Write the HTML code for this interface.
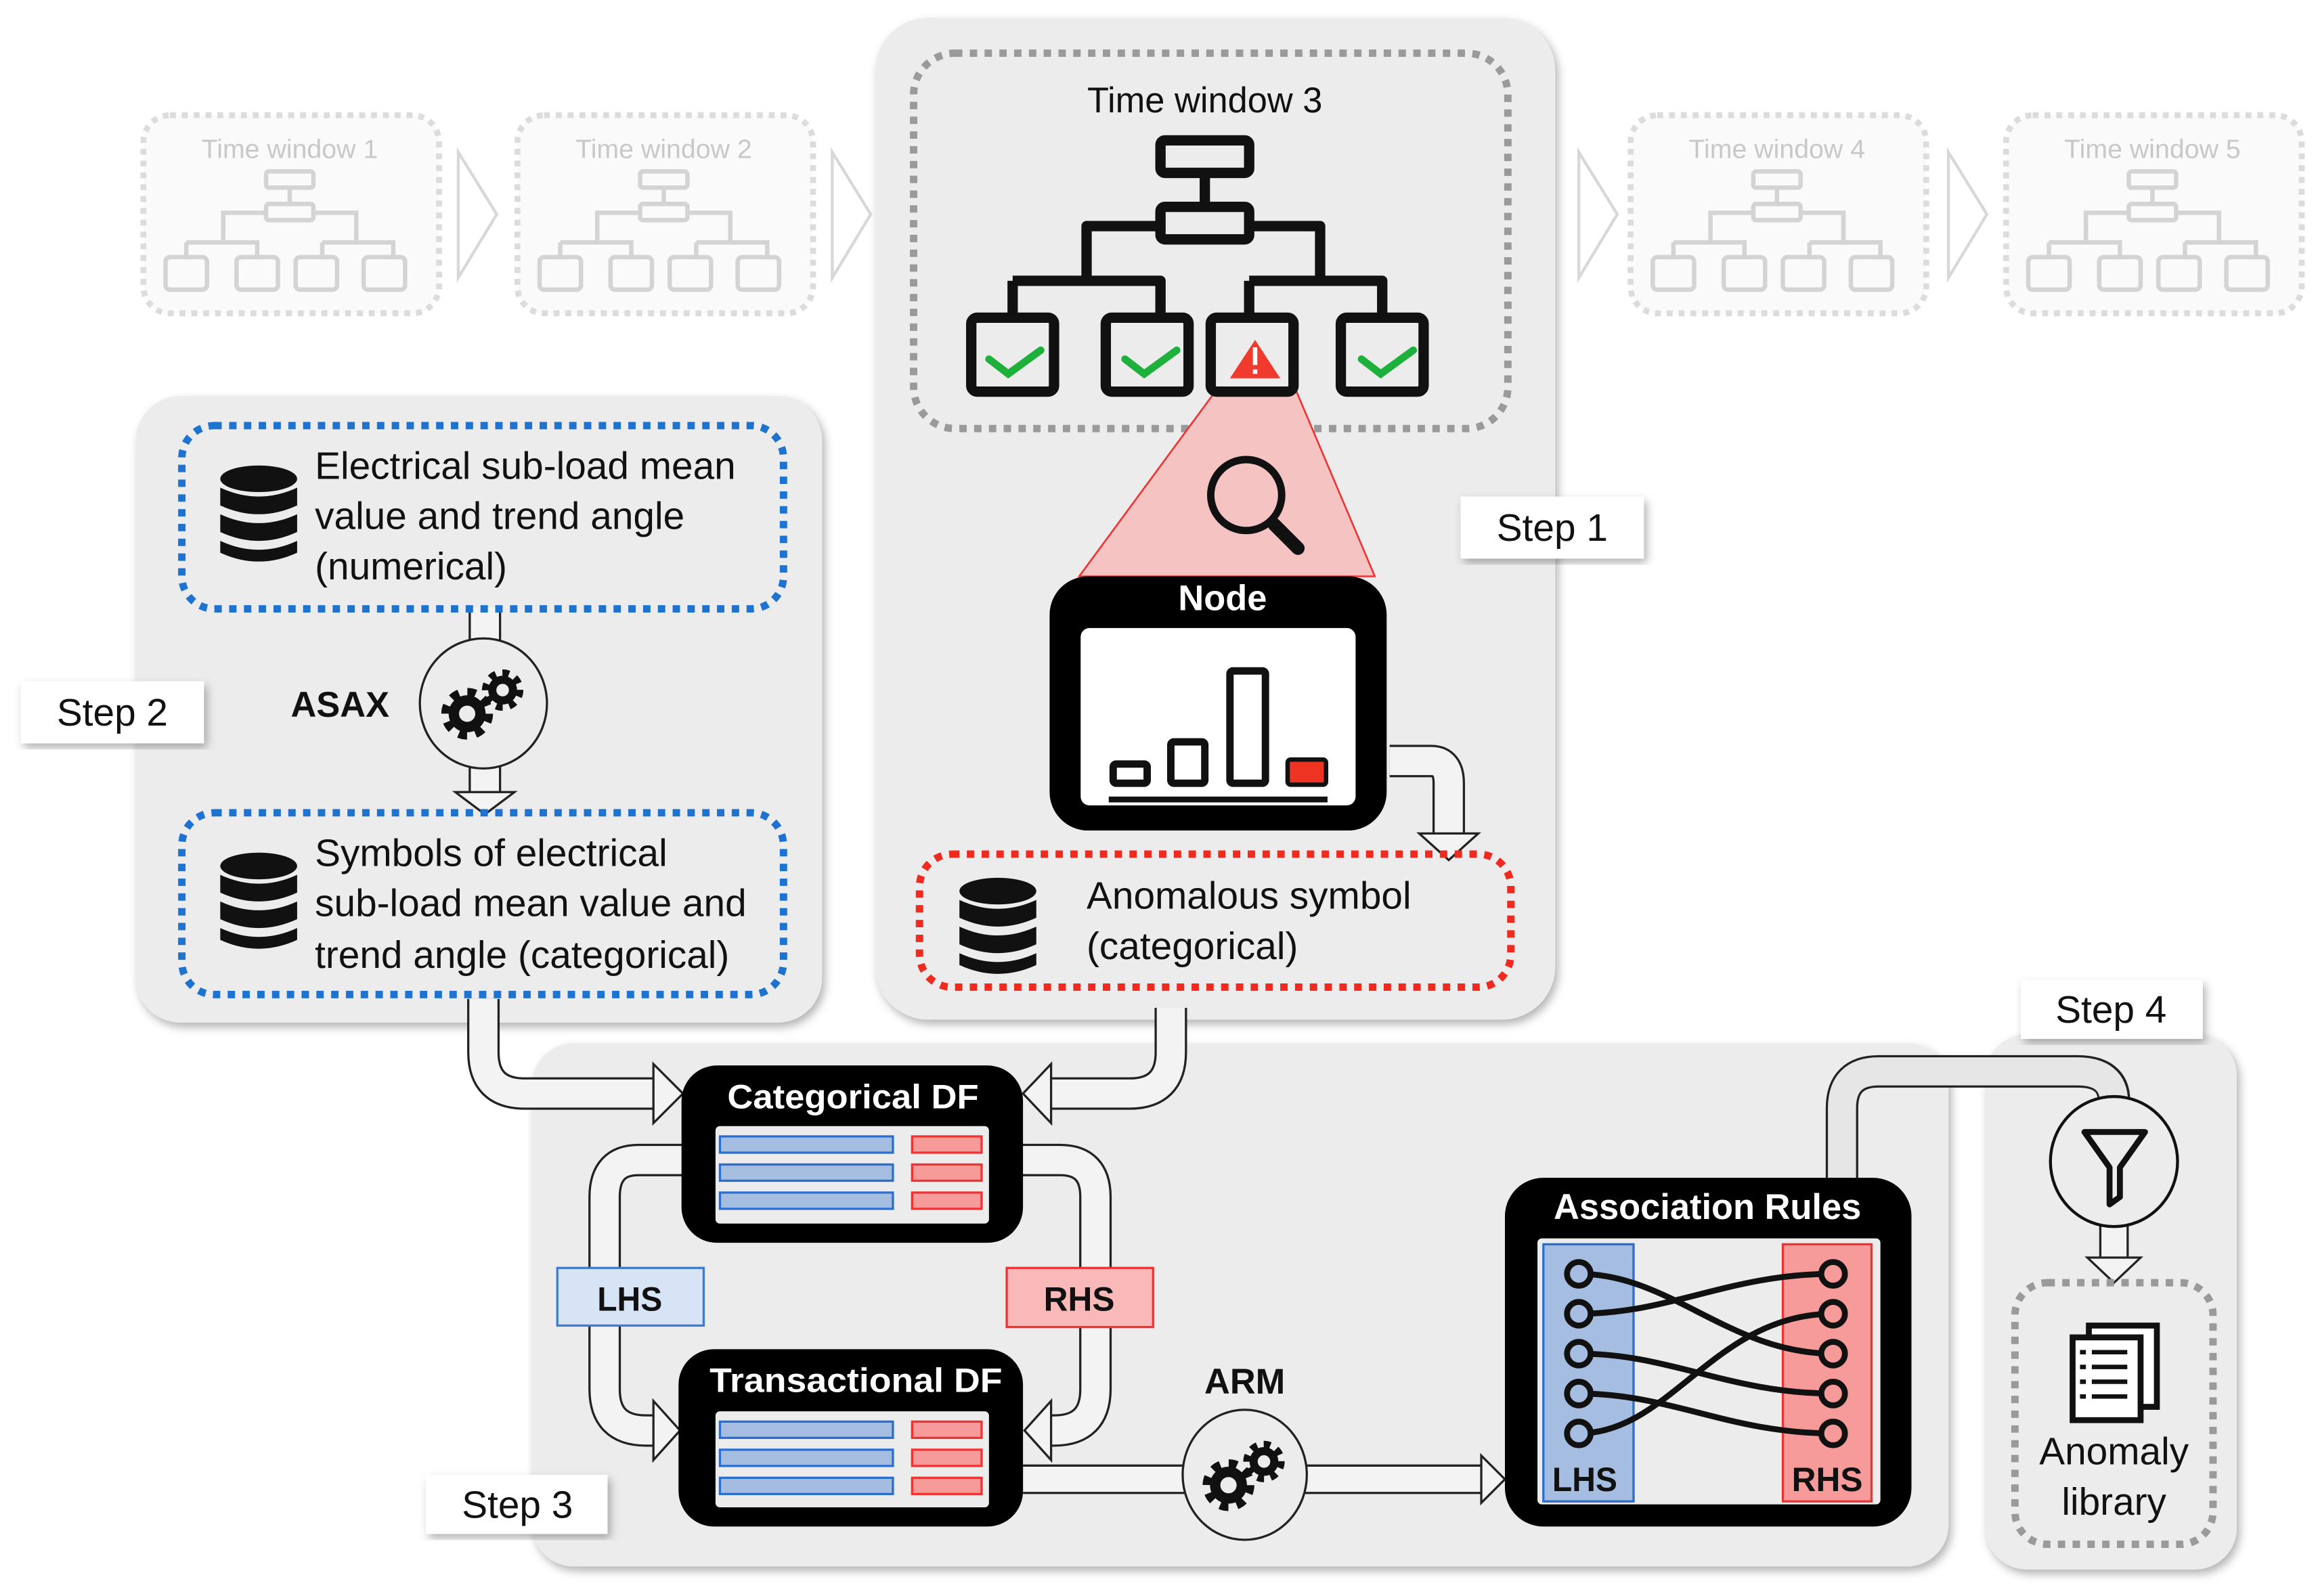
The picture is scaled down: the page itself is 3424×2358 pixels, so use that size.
<!DOCTYPE html>
<html><head><meta charset="utf-8"><style>html,body{margin:0;padding:0;background:#fff}svg{display:block}</style></head>
<body>
<svg width="3424" height="2358" viewBox="0 0 1568 1080" preserveAspectRatio="none" xmlns="http://www.w3.org/2000/svg" font-family="Liberation Sans, sans-serif">
<defs>
<filter id="sh" x="-10%" y="-10%" width="120%" height="120%"><feDropShadow dx="2" dy="3" stdDeviation="3" flood-color="#000" flood-opacity="0.3"/></filter>
<g id="tree" fill="none" stroke-linejoin="round">
<rect x="-30" y="0" width="60" height="22" rx="3"/><path d="M0,22V45"/><rect x="-30" y="45" width="60" height="22" rx="3"/>
<path d="M-30,58H-80V95M30,58H78V95M-130,95V120M-130,95H-30V120M30,95H120V120M30,95V120"/>
<rect x="-158" y="120" width="56" height="50" rx="4"/><rect x="-67" y="120" width="56" height="50" rx="4"/><rect x="4" y="120" width="56" height="50" rx="4"/><rect x="92" y="120" width="56" height="50" rx="4"/>
</g>
<g id="smalltree" fill="none" stroke="#d4d4d4" stroke-width="3">
<rect x="-16" y="0" width="32" height="11" rx="2"/><path d="M0,11V22"/><rect x="-16" y="22" width="32" height="11" rx="2"/>
<path d="M-16,28H-45V48M16,28H45V48M-70,48H-22V58M-70,48V58M22,48H70V58M22,48V58"/>
<rect x="-84" y="58" width="28" height="22" rx="3"/><rect x="-36" y="58" width="28" height="22" rx="3"/><rect x="4" y="58" width="28" height="22" rx="3"/><rect x="50" y="58" width="28" height="22" rx="3"/>
</g>
<g id="db" fill="#111">
<ellipse cx="0" cy="-22" rx="26" ry="9"/>
<path d="M-26,-16 Q0,-4 26,-16 V-4 Q0,8 -26,-4Z"/>
<path d="M-26,2 Q0,14 26,2 V14 Q0,26 -26,14Z"/>
<path d="M-26,20 Q0,32 26,20 V28 Q0,40 -26,28Z"/>
</g>
<g id="gears">
<circle cx="-11" cy="7" r="14" fill="none" stroke="#111" stroke-width="7" stroke-dasharray="5.5 5.5"/>
<circle cx="-11" cy="7" r="9" fill="none" stroke="#111" stroke-width="7"/>
<circle cx="13" cy="-9" r="11" fill="none" stroke="#111" stroke-width="6" stroke-dasharray="4.3 4.3"/>
<circle cx="13" cy="-9" r="7" fill="none" stroke="#111" stroke-width="5.5"/>
</g>
</defs>

<g font-size="18" fill="#c8c8c8" text-anchor="middle">
<rect x="97" y="78" width="200" height="134" rx="18" fill="#fafafa" stroke="#dcdcdc" stroke-width="4" stroke-dasharray="4 4"/>
<text x="196" y="107">Time window 1</text><use href="#smalltree" x="196" y="116"/>
<rect x="350" y="78" width="200" height="134" rx="18" fill="#fafafa" stroke="#dcdcdc" stroke-width="4" stroke-dasharray="4 4"/>
<text x="449" y="107">Time window 2</text><use href="#smalltree" x="449" y="116"/>
<rect x="1103" y="78" width="200" height="134" rx="18" fill="#fafafa" stroke="#dcdcdc" stroke-width="4" stroke-dasharray="4 4"/>
<text x="1202" y="107">Time window 4</text><use href="#smalltree" x="1202" y="116"/>
<rect x="1357" y="78" width="200" height="134" rx="18" fill="#fafafa" stroke="#dcdcdc" stroke-width="4" stroke-dasharray="4 4"/>
<text x="1456" y="107">Time window 5</text><use href="#smalltree" x="1456" y="116"/>
</g>
<g fill="none" stroke="#d8d8d8" stroke-width="2">
<path d="M310,103 L336,145 L310,188Z"/><path d="M563,103 L589,145 L563,188Z"/>
<path d="M1068,103 L1094,145 L1068,188Z"/><path d="M1318,103 L1344,145 L1318,188Z"/>
</g>

<rect x="592" y="12" width="460" height="678" rx="36" fill="#ececec" filter="url(#sh)"/>
<rect x="92" y="268" width="464" height="424" rx="30" fill="#ececec" filter="url(#sh)"/>
<rect x="360" y="706" width="958" height="354" rx="28" fill="#ececec" filter="url(#sh)"/>
<rect x="1343" y="700" width="170" height="362" rx="28" fill="#ececec" filter="url(#sh)"/>

<rect x="618" y="36" width="402" height="254" rx="28" fill="none" stroke="#9a9a9a" stroke-width="5" stroke-dasharray="5 5"/>
<text x="815" y="76" font-size="24" text-anchor="middle" fill="#111">Time window 3</text>
<polygon points="822,265 877,265 930,390 730,390" fill="#f6c3c3" stroke="#e33" stroke-width="1.2"/>
<use href="#tree" x="815" y="95" stroke="#111" stroke-width="7"/>
<g fill="none" stroke="#1db03a" stroke-width="5" stroke-linecap="round"><path d="M669,243l13,10l22,-16"/><path d="M761,243l13,10l22,-16"/><path d="M921,243l13,10l22,-16"/></g>
<polygon points="849,230 866,256 832,256" fill="#f03a2e"/><rect x="847.5" y="235" width="3" height="12" fill="#fff"/><rect x="847.5" y="250" width="3" height="3" fill="#fff"/>
<circle cx="843" cy="335" r="24" fill="none" stroke="#111" stroke-width="5"/>
<line x1="862" y1="355" x2="878" y2="371" stroke="#111" stroke-width="9" stroke-linecap="round"/>
<rect x="710" y="390" width="228" height="172" rx="26" fill="#000"/>
<rect x="731" y="425" width="186" height="120" rx="6" fill="#fff"/>
<text x="827" y="413" font-size="24" font-weight="bold" fill="#fff" text-anchor="middle">Node</text>
<g fill="none" stroke="#111" stroke-width="5"><rect x="753" y="517" width="23" height="13" rx="2"/><rect x="792" y="502" width="23" height="28" rx="2"/><rect x="832" y="454" width="24" height="76" rx="2"/></g>
<rect x="871" y="514" width="26" height="17" rx="2" fill="#ee3322" stroke="#111" stroke-width="3"/>
<line x1="750" y1="541" x2="898" y2="541" stroke="#111" stroke-width="4"/>
<path d="M940,515 H968 Q980,515 980,530 V565" fill="none" stroke="#222" stroke-width="22"/>
<path d="M940,515 H968 Q980,515 980,530 V566" fill="none" stroke="#f3f3f3" stroke-width="19"/>
<polygon points="960,564 1000,564 980,582" fill="#f3f3f3" stroke="#222" stroke-width="1.5"/>
<rect x="622" y="578" width="400" height="90" rx="22" fill="none" stroke="#f02a1e" stroke-width="5" stroke-dasharray="5 5"/>
<use href="#db" x="675" y="625"/>
<text font-size="26" fill="#111"><tspan x="735" y="615">Anomalous symbol</tspan><tspan x="735" y="649">(categorical)</tspan></text>
<rect x="988" y="336" width="124" height="42" fill="#fff" filter="url(#sh)"/>
<text x="1050" y="366" font-size="26" text-anchor="middle" fill="#111">Step 1</text>

<path d="M328,412 V436 M328,518 V538" stroke="#222" stroke-width="22"/>
<path d="M328,411 V436 M328,518 V539" stroke="#f3f3f3" stroke-width="19"/>
<polygon points="308,536 348,536 328,551" fill="#f3f3f3" stroke="#222" stroke-width="1.5"/>
<rect x="123" y="288" width="407" height="124" rx="22" fill="none" stroke="#1e72d0" stroke-width="5" stroke-dasharray="5 5"/>
<use href="#db" x="175" y="346"/>
<text font-size="26" fill="#111"><tspan x="213" y="324">Electrical sub-load mean</tspan><tspan x="213" y="358">value and trend angle</tspan><tspan x="213" y="392">(numerical)</tspan></text>
<ellipse cx="327" cy="476" rx="43" ry="44" fill="#ececec" stroke="#222" stroke-width="1.5"/>
<use href="#gears" x="327" y="476"/>
<text x="230" y="485" font-size="24" font-weight="bold" text-anchor="middle" fill="#111">ASAX</text>
<rect x="14" y="461" width="124" height="42" fill="#fff" filter="url(#sh)"/>
<text x="76" y="491" font-size="26" text-anchor="middle" fill="#111">Step 2</text>
<rect x="123" y="550" width="407" height="123" rx="22" fill="none" stroke="#1e72d0" stroke-width="5" stroke-dasharray="5 5"/>
<use href="#db" x="175" y="608"/>
<text font-size="26" fill="#111"><tspan x="213" y="586">Symbols of electrical</tspan><tspan x="213" y="620">sub-load mean value and</tspan><tspan x="213" y="655">trend angle (categorical)</tspan></text>

<g fill="none">
<path d="M327,676 V712 Q327,740 355,740 H445" stroke="#222" stroke-width="22"/>
<path d="M327,676 V712 Q327,740 355,740 H446" stroke="#f3f3f3" stroke-width="19"/>
<path d="M792,682 V712 Q792,740 764,740 H708" stroke="#222" stroke-width="22"/>
<path d="M792,682 V712 Q792,740 764,740 H707" stroke="#f3f3f3" stroke-width="19"/>
<path d="M462,785 H432 Q409,785 409,810 V940 Q409,968 437,968 H445" stroke="#222" stroke-width="22"/>
<path d="M463,785 H432 Q409,785 409,810 V940 Q409,968 437,968 H446" stroke="#f3f3f3" stroke-width="19"/>
<path d="M690,785 H717 Q741,785 741,810 V940 Q741,968 713,968 H708" stroke="#222" stroke-width="22"/>
<path d="M689,785 H717 Q741,785 741,810 V940 Q741,968 713,968 H707" stroke="#f3f3f3" stroke-width="19"/>
<path d="M692,1001 H1005" stroke="#222" stroke-width="20"/>
<path d="M692,1001 H1006" stroke="#f3f3f3" stroke-width="17"/>
<path d="M1246,800 V750 Q1246,725 1271,725 H1405 Q1430,725 1430,745" stroke="#222" stroke-width="22"/>
<path d="M1246,801 V750 Q1246,725 1271,725 H1405 Q1430,725 1430,746" stroke="#e6e6e6" stroke-width="19"/>
<path d="M1430,826 V852" stroke="#222" stroke-width="20"/>
<path d="M1430,825 V853" stroke="#f3f3f3" stroke-width="17"/>
</g>
<g fill="#f3f3f3" stroke="#222" stroke-width="1.5">
<polygon points="442,720 462,740 442,760"/><polygon points="711,720 692,740 711,760"/>
<polygon points="442,948 460,968 442,988"/><polygon points="711,948 693,968 711,988"/>
<polygon points="1002,985 1018,1001 1002,1017"/><polygon points="1412,851 1448,851 1430,868"/>
</g>
<ellipse cx="842" cy="998" rx="42" ry="44" fill="#ececec" stroke="#222" stroke-width="1.5"/>
<use href="#gears" x="842" y="998"/>
<text x="842" y="943" font-size="24" font-weight="bold" text-anchor="middle" fill="#111">ARM</text>

<rect x="461" y="721" width="231" height="120" rx="24" fill="#000"/>
<rect x="484" y="762" width="185" height="66" rx="3" fill="#ececec"/>
<text x="577" y="750" font-size="23" font-weight="bold" fill="#fff" text-anchor="middle" textLength="170" lengthAdjust="spacingAndGlyphs">Categorical DF</text>
<rect x="459" y="913" width="233" height="120" rx="24" fill="#000"/>
<rect x="484" y="955" width="185" height="65" rx="3" fill="#ececec"/>
<text x="579" y="942" font-size="23" font-weight="bold" fill="#fff" text-anchor="middle" textLength="198" lengthAdjust="spacingAndGlyphs">Transactional DF</text>
<g fill="#a4bde0" stroke="#2a6fd0" stroke-width="1.5"><rect x="487" y="769" width="117" height="11"/><rect x="487" y="788" width="117" height="11"/><rect x="487" y="807" width="117" height="11"/>
<rect x="487" y="962" width="117" height="11"/><rect x="487" y="981" width="117" height="11"/><rect x="487" y="1000" width="117" height="11"/></g>
<g fill="#f69a9a" stroke="#ee3333" stroke-width="1.5"><rect x="617" y="769" width="47" height="11"/><rect x="617" y="788" width="47" height="11"/><rect x="617" y="807" width="47" height="11"/>
<rect x="617" y="962" width="47" height="11"/><rect x="617" y="981" width="47" height="11"/><rect x="617" y="1000" width="47" height="11"/></g>

<rect x="377" y="858" width="99" height="39" fill="#d6e4f5" stroke="#3d7ad0" stroke-width="1.5"/>
<text x="426" y="887" font-size="23" font-weight="bold" text-anchor="middle" fill="#111" textLength="44" lengthAdjust="spacingAndGlyphs">LHS</text>
<rect x="681" y="858" width="99" height="40" fill="#f9b9b9" stroke="#ee3333" stroke-width="1.5"/>
<text x="730" y="887" font-size="23" font-weight="bold" text-anchor="middle" fill="#111" textLength="48" lengthAdjust="spacingAndGlyphs">RHS</text>
<rect x="288" y="998" width="123" height="40" fill="#fff" filter="url(#sh)"/>
<text x="350" y="1027" font-size="26" text-anchor="middle" fill="#111">Step 3</text>

<rect x="1018" y="797" width="275" height="236" rx="26" fill="#000"/>
<rect x="1040" y="838" width="232" height="180" rx="3" fill="#ececec"/>
<text x="1155" y="825" font-size="24" font-weight="bold" fill="#fff" text-anchor="middle" textLength="208" lengthAdjust="spacingAndGlyphs">Association Rules</text>
<rect x="1044" y="842" width="61" height="174" fill="#a4bde0" stroke="#2a6fd0" stroke-width="1.5"/>
<rect x="1206" y="842" width="60" height="174" fill="#f69a9a" stroke="#ee3333" stroke-width="1.5"/>
<g fill="none" stroke="#111" stroke-width="4">
<path d="M1068,862 C1130,862 1170,916 1240,916"/>
<path d="M1068,889 C1130,889 1170,862 1240,862"/>
<path d="M1068,916 C1130,916 1170,943 1240,943"/>
<path d="M1068,943 C1130,943 1170,970 1240,970"/>
<path d="M1068,970 C1130,970 1160,889 1240,889"/>
</g>
<g fill="#a4bde0" stroke="#111" stroke-width="4"><circle cx="1068" cy="862" r="8"/><circle cx="1068" cy="889" r="8"/><circle cx="1068" cy="916" r="8"/><circle cx="1068" cy="943" r="8"/><circle cx="1068" cy="970" r="8"/></g>
<g fill="#f69a9a" stroke="#111" stroke-width="4"><circle cx="1240" cy="862" r="8"/><circle cx="1240" cy="889" r="8"/><circle cx="1240" cy="916" r="8"/><circle cx="1240" cy="943" r="8"/><circle cx="1240" cy="970" r="8"/></g>
<text x="1072" y="1009" font-size="23" font-weight="bold" text-anchor="middle" fill="#111" textLength="44" lengthAdjust="spacingAndGlyphs">LHS</text>
<text x="1236" y="1009" font-size="23" font-weight="bold" text-anchor="middle" fill="#111" textLength="48" lengthAdjust="spacingAndGlyphs">RHS</text>

<ellipse cx="1430" cy="786" rx="43" ry="44" fill="#ececec" stroke="#111" stroke-width="2"/>
<path d="M1410,766 H1451 L1434,790 V810 L1427,815 V790Z" fill="none" stroke="#111" stroke-width="4" stroke-linejoin="round"/>
<rect x="1363" y="868" width="134" height="177" rx="22" fill="none" stroke="#9a9a9a" stroke-width="5" stroke-dasharray="5 5"/>
<rect x="1413" y="897" width="46" height="55" fill="#fff" stroke="#111" stroke-width="4"/>
<rect x="1402" y="905" width="46" height="56" fill="#fff" stroke="#111" stroke-width="4"/>
<g stroke="#111" stroke-width="3"><path d="M1407,915h4M1415,915h24M1407,925h4M1415,925h24M1407,935h4M1415,935h24M1407,945h4M1415,945h24"/></g>
<text font-size="26" fill="#111" text-anchor="middle"><tspan x="1430" y="991">Anomaly</tspan><tspan x="1430" y="1025">library</tspan></text>
<rect x="1367" y="663" width="123" height="40" fill="#fff" filter="url(#sh)"/>
<text x="1428" y="692" font-size="26" text-anchor="middle" fill="#111">Step 4</text>
</svg>
</body></html>
